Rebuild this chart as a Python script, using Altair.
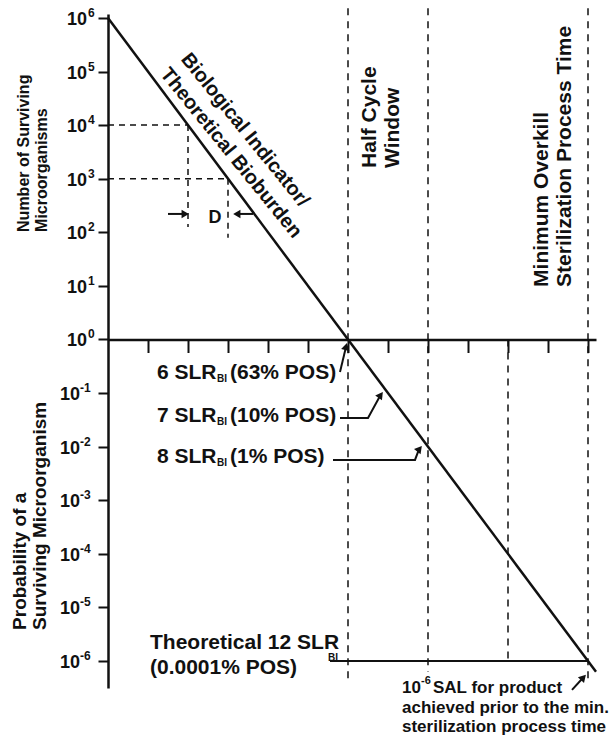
import altair as alt
import pandas as pd

# ---------------- data ----------------
# survivor curve: process time (in D-value units) vs number / probability of survivors
line_time = [0.0, 12.2]
line_survivors = [1e6, 6.3e-7]

decades = [1e6, 1e5, 1e4, 1e3, 1e2, 1e1, 1e0, 1e-1, 1e-2, 1e-3, 1e-4, 1e-5, 1e-6]
decade_exp = ["6", "5", "4", "3", "2", "1", "0", "-1", "-2", "-3", "-4", "-5", "-6"]
time_ticks = list(range(1, 13))

# dashed construction lines showing one D value
d_levels = [1e4, 1e3]
d_times = [2.0, 3.0]
d_bottom = [10 ** 2.1, 10 ** 1.9]

# process-time markers (dashed verticals)
marker_times = [6, 8, 10, 12]
marker_top = [10 ** 6.18, 10 ** 6.18, 1.0, 10 ** 6.18]
marker_bottom = [10 ** -6.35, 10 ** -6.2, 10 ** -6.0, 10 ** -6.35]

# 10^-6 SAL reference line
sal_level = [1e-6]
sal_from = [5.55]
sal_to = [12.0]

# ---------------- chart ----------------
FONT = "Liberation Sans"
INK = "#111111"
XS = alt.Scale(domain=[0, 12.2], nice=False, zero=False)
YS = alt.Scale(type="log", domain=[10 ** -6.504, 10 ** 6.073], nice=False)
AX = alt.Axis(orient="bottom", offset=-348.5, values=time_ticks, labels=False, tickSize=13,
              tickWidth=2, tickColor=INK, domainColor=INK, domainWidth=2.5, grid=False, title=None)
AY = alt.Axis(orient="left", values=decades, labels=False, tickSize=10, tickWidth=2,
              tickColor=INK, domainColor=INK, domainWidth=2.5, grid=False, title=None)


def X(f):
    return alt.X(f, type="quantitative", scale=XS, axis=AX)


def Y(f):
    return alt.Y(f, type="quantitative", scale=YS, axis=AY)


diag = alt.Chart(pd.DataFrame({"t": line_time, "n": line_survivors})).mark_line(
    color=INK, strokeWidth=2.5
).encode(x=X("t"), y=Y("n"))

# tick labels 10^n
tl = pd.DataFrame({"v": decades, "b": ["10"] * len(decades), "e": decade_exp})
tl["xb"] = [-0.7 if e.startswith("-") else -0.525 for e in decade_exp]
tl["xe"] = [-0.7 if e.startswith("-") else -0.5 for e in decade_exp]
tick_base = alt.Chart(tl).mark_text(font=FONT, fontWeight="bold", fontSize=18, align="right",
                                    baseline="middle", dy=2, color=INK).encode(
    x=X("xb"), y=Y("v"), text="b:N")
tick_exp = alt.Chart(tl).mark_text(font=FONT, fontWeight="bold", fontSize=12, align="left",
                                   baseline="middle", dy=-5, color=INK).encode(
    x=X("xe"), y=Y("v"), text="e:N")

# dashed guides
dh = alt.Chart(pd.DataFrame({"y": d_levels, "x2": d_times, "x0": [0.0, 0.0]})).mark_rule(
    color=INK, strokeWidth=1.5, strokeDash=[6, 5]).encode(x=X("x0"), x2="x2:Q", y=Y("y"))
dv = alt.Chart(pd.DataFrame({"x": d_times, "y1": d_levels, "y2": d_bottom})).mark_rule(
    color=INK, strokeWidth=1.5, strokeDash=[6, 5]).encode(x=X("x"), y=Y("y1"), y2="y2:Q")
mv = alt.Chart(pd.DataFrame({"x": marker_times, "y1": marker_top, "y2": marker_bottom})).mark_rule(
    color=INK, strokeWidth=1.5, strokeDash=[7, 6]).encode(x=X("x"), y=Y("y1"), y2="y2:Q")
sal = alt.Chart(pd.DataFrame({"y": sal_level, "x1": sal_from, "x2": sal_to})).mark_rule(
    color=INK, strokeWidth=2).encode(x=X("x1"), x2="x2:Q", y=Y("y"))


def label(x, L, text, size, **kw):
    df = pd.DataFrame({"x": [x], "y": [10 ** L], "t": [text]})
    props = dict(font=FONT, fontWeight="bold", fontSize=size, color=INK, align="left", baseline="middle")
    props.update(kw)
    return alt.Chart(df).mark_text(**props).encode(x=X("x"), y=Y("y"), text="t:N")


def arrow(points, head, angle):
    pts = pd.DataFrame({"x": [p[0] for p in points] + [head[0]],
                        "y": [10 ** p[1] for p in points] + [10 ** head[1]],
                        "o": list(range(len(points) + 1))})
    ln = alt.Chart(pts).mark_line(color=INK, strokeWidth=2).encode(x=X("x"), y=Y("y"), order="o:Q")
    hd = alt.Chart(pd.DataFrame({"x": [head[0]], "y": [10 ** head[1]]})).mark_point(
        shape="triangle", filled=True, size=70, color=INK, opacity=1, angle=angle
    ).encode(x=X("x"), y=Y("y"))
    return [ln, hd]


texts = [
    label(-2.09, 2.006, "Number of Surviving", 16, angle=270),
    label(-1.64, 2.006, "Microorganisms", 16, angle=270),
    label(-2.19, -5.42, "Probability of a", 19, angle=270),
    label(-1.70, -5.42, "Surviving Microorganism", 19, angle=270),
    label(6.55, 3.2, "Half Cycle", 21, angle=270),
    label(7.125, 3.2, "Window", 21, angle=270),
    label(10.85, 0.98, "Minimum Overkill", 21, angle=270),
    label(11.425, 0.98, "Sterilization Process Time", 21, angle=270),
    label(3.425, 3.909, "Biological Indicator/", 20, angle=51, align="center"),
    label(3.075, 3.48, "Theoretical Bioburden", 20, angle=51, align="center"),
    label(2.675, 2.267, "D", 18, align="center"),
]

rows = [(-0.625, "6 SLR", "(63% POS)"), (-1.427, "7 SLR", "(10% POS)"), (-2.192, "8 SLR", "(1% POS)")]
for L, a, b in rows:
    texts.append(label(1.225, L, a, 21))
    texts.append(label(1.225, L, "BI", 10, dx=60, dy=6))
    texts.append(label(1.225, L, b, 21, dx=73))

texts += [
    label(1.05, -5.662, "Theoretical 12 SLR", 21),
    label(1.05, -5.662, "BI", 10, dx=178, dy=15),
    label(1.05, -6.128, "(0.0001% POS)", 21),
    label(7.35, -6.502, "10", 17),
    label(7.35, -6.502, "-6", 11, dx=19, dy=-7),
    label(7.35, -6.502, "SAL for product", 17, dx=31),
    label(7.35, -6.875, "achieved prior to the min.", 17),
    label(7.35, -7.229, "sterilization process time", 17),
]

arrows = []
arrows += arrow([(1.5, 2.342)], (1.9, 2.342), 90)
arrows += arrow([(3.625, 2.342)], (3.25, 2.342), 270)
arrows += arrow([(5.8, -0.606)], (5.945, -0.155), 14)
arrows += arrow([(5.8, -1.464), (6.5, -1.464)], (6.8, -1.054), 36)
arrows += arrow([(5.625, -2.248), (7.675, -2.248)], (7.77, -2.059), 39)
arrows += arrow([(11.6, -6.539)], (11.865, -6.323), 43)

chart = alt.layer(diag, dh, dv, mv, sal, tick_base, tick_exp, *texts, *arrows).properties(
    width=488, height=674,
    padding={"left": 108, "top": 14, "right": 19, "bottom": 54},
    autosize=alt.AutoSizeParams(type="none"),
    background="white",
).configure_view(stroke=None)

chart.save("out.html", embed_options={"renderer": "svg", "actions": False})
